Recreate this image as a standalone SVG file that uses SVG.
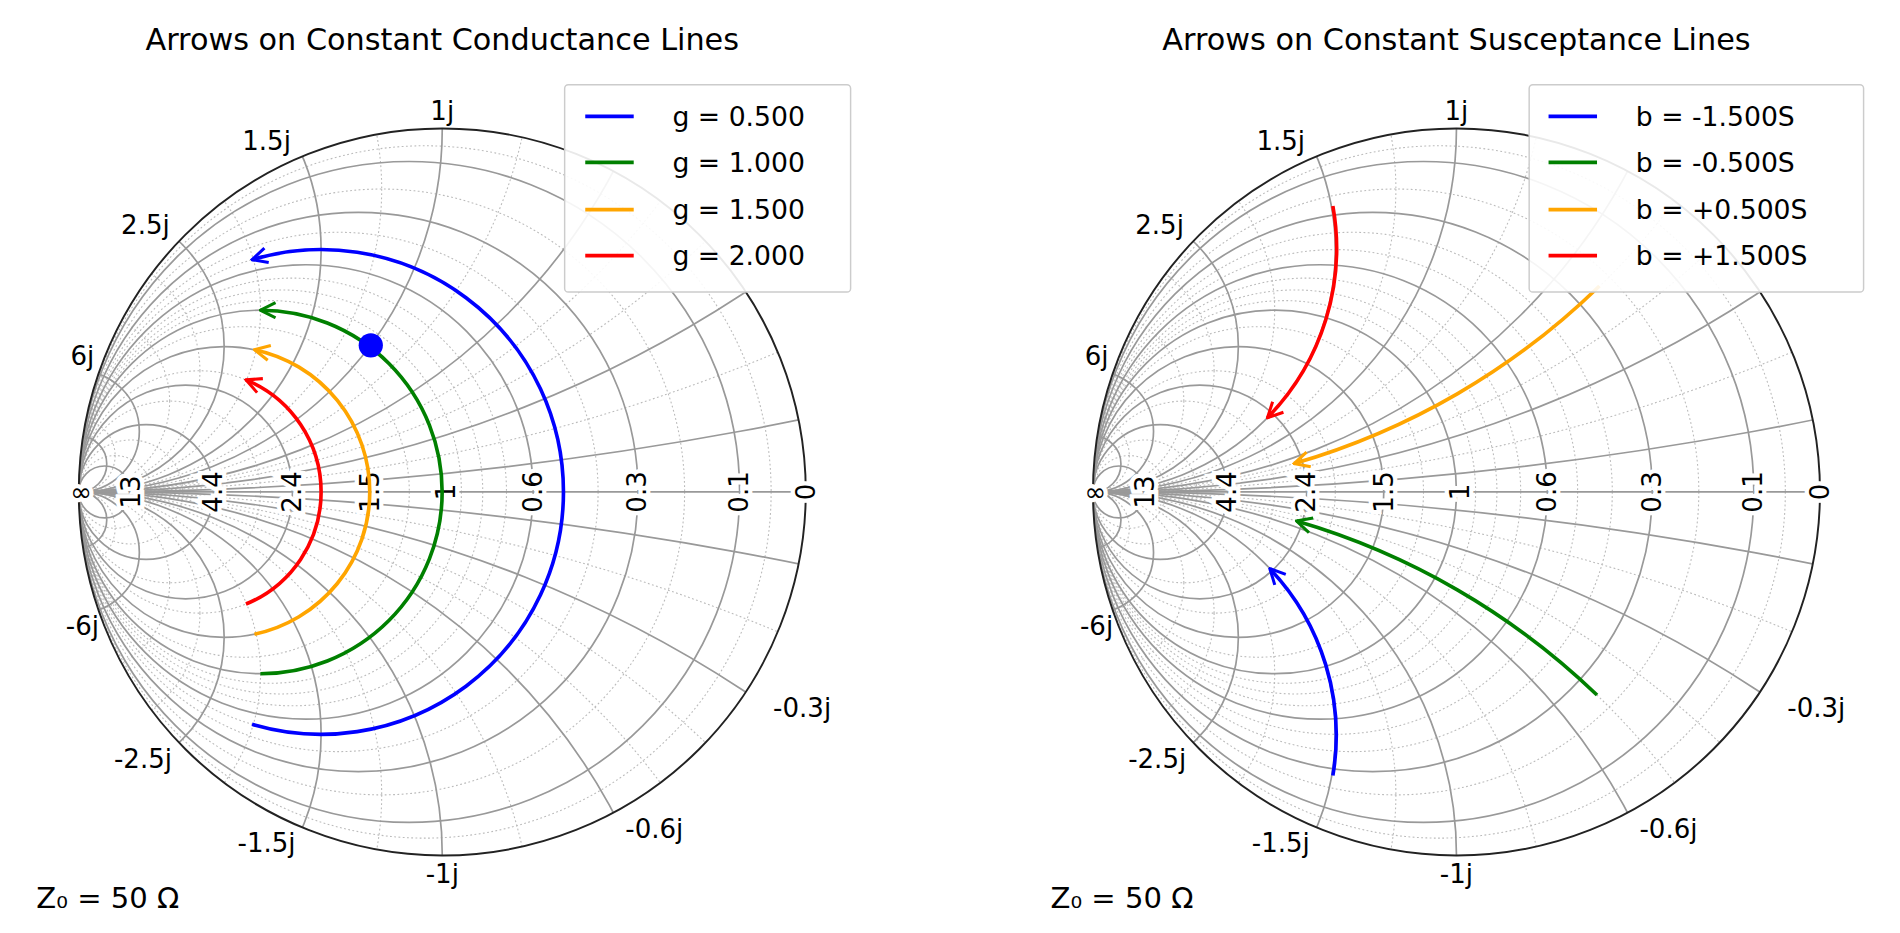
<svg xmlns="http://www.w3.org/2000/svg" width="1900" height="933" viewBox="0 0 1900 933">
<style>
text{font-family:"DejaVu Sans","Liberation Sans",sans-serif;fill:#000}
.t{font-size:25px}
.l{font-size:21.5px}
.g{font-size:22px}
.ax{font-size:21.5px;stroke:#fff;stroke-width:7;paint-order:stroke;text-anchor:middle;dominant-baseline:central}
.M{fill:none;stroke:#999;stroke-width:1.4}
.m{fill:none;stroke:#bbb;stroke-width:0.9;stroke-dasharray:1.5 2}
.c{fill:none;stroke-width:3}
</style>
<defs>
<clipPath id="cp"><circle cx="0" cy="0" r="300"/></clipPath>
<marker id="ar" viewBox="0 0 12 12" refX="11" refY="6" markerWidth="5" markerHeight="5" orient="auto" markerUnits="strokeWidth"><path d="M1,1 L11,6 L1,11" fill="none" stroke="context-stroke" stroke-width="2"/></marker>
<g id="grid">
<g clip-path="url(#cp)">
<g class="m">
<circle cx="-14.3" cy="0" r="285.7"/><circle cx="-50" cy="0" r="250"/><circle cx="-85.7" cy="0" r="214.3"/><circle cx="-100" cy="0" r="200"/><circle cx="-123.5" cy="0" r="176.5"/><circle cx="-133.3" cy="0" r="166.7"/><circle cx="-142.1" cy="0" r="157.9"/><circle cx="-163.6" cy="0" r="136.4"/><circle cx="-200" cy="0" r="100"/><circle cx="-225" cy="0" r="75"/><circle cx="-257.1" cy="0" r="42.9"/><circle cx="-270" cy="0" r="30"/>
<circle cx="-300" cy="-1500" r="1500"/><circle cx="-300" cy="1500" r="1500"/><circle cx="-300" cy="-750" r="750"/><circle cx="-300" cy="750" r="750"/><circle cx="-300" cy="-600" r="600"/><circle cx="-300" cy="600" r="600"/><circle cx="-300" cy="-375" r="375"/><circle cx="-300" cy="375" r="375"/><circle cx="-300" cy="-250" r="250"/><circle cx="-300" cy="250" r="250"/><circle cx="-300" cy="-150" r="150"/><circle cx="-300" cy="150" r="150"/><circle cx="-300" cy="-100" r="100"/><circle cx="-300" cy="100" r="100"/><circle cx="-300" cy="-75" r="75"/><circle cx="-300" cy="75" r="75"/><circle cx="-300" cy="-30" r="30"/><circle cx="-300" cy="30" r="30"/>
</g>
<g class="M">
<circle cx="-27.3" cy="0" r="272.7"/><circle cx="-69.2" cy="0" r="230.8"/><circle cx="-112.5" cy="0" r="187.5"/><circle cx="-150" cy="0" r="150"/><circle cx="-180" cy="0" r="120"/><circle cx="-211.8" cy="0" r="88.2"/><circle cx="-244.4" cy="0" r="55.6"/><circle cx="-278.6" cy="0" r="21.4"/>
<circle cx="-300" cy="-3000" r="3000"/><circle cx="-300" cy="3000" r="3000"/><circle cx="-300" cy="-1000" r="1000"/><circle cx="-300" cy="1000" r="1000"/><circle cx="-300" cy="-500" r="500"/><circle cx="-300" cy="500" r="500"/><circle cx="-300" cy="-300" r="300"/><circle cx="-300" cy="300" r="300"/><circle cx="-300" cy="-200" r="200"/><circle cx="-300" cy="200" r="200"/><circle cx="-300" cy="-120" r="120"/><circle cx="-300" cy="120" r="120"/><circle cx="-300" cy="-50" r="50"/><circle cx="-300" cy="50" r="50"/><circle cx="-300" cy="-23.1" r="23.1"/><circle cx="-300" cy="23.1" r="23.1"/>
<line x1="-300" y1="0" x2="300" y2="0"/>
</g>
</g>
<circle cx="0" cy="0" r="300" fill="none" stroke="#222" stroke-width="1.6"/>
</g>
</defs>
<rect width="1900" height="933" fill="#fff"/>
<g transform="scale(1.2117)">
<g id="chart-left">
<text class="t" x="365" y="41" text-anchor="middle">Arrows on Constant Conductance Lines</text>
<use href="#grid" x="365" y="406"/>
<g class="ax">
<text x="67" y="406">∞</text><text transform="translate(108,406) rotate(-90)">13</text><text transform="translate(176,406) rotate(-90)">4.4</text><text transform="translate(241,406) rotate(-90)">2.4</text><text transform="translate(305,406) rotate(-90)">1.5</text><text transform="translate(368,406) rotate(-90)">1</text><text transform="translate(440,406) rotate(-90)">0.6</text><text transform="translate(526,406) rotate(-90)">0.3</text><text transform="translate(610,406) rotate(-90)">0.1</text><text transform="translate(665,406) rotate(-90)">0</text>
</g>
<g class="l" text-anchor="middle">
<text x="365" y="99">1j</text><text x="220" y="124">1.5j</text><text x="120" y="193">2.5j</text><text x="68" y="301">6j</text><text x="68" y="524">-6j</text><text x="118" y="634">-2.5j</text><text x="220" y="703">-1.5j</text><text x="365" y="729">-1j</text><text x="540" y="692">-0.6j</text><text x="662" y="592">-0.3j</text>
</g>
<text x="30" y="749" style="font-size:24px">Z₀ = 50 Ω</text>
</g>

<g id="chart-right">
<text class="t" x="1202" y="41" text-anchor="middle">Arrows on Constant Susceptance Lines</text>
<use href="#grid" x="1202" y="406"/>
<g class="ax">
<text x="904" y="406">∞</text><text transform="translate(945,406) rotate(-90)">13</text><text transform="translate(1013,406) rotate(-90)">4.4</text><text transform="translate(1078,406) rotate(-90)">2.4</text><text transform="translate(1142,406) rotate(-90)">1.5</text><text transform="translate(1205,406) rotate(-90)">1</text><text transform="translate(1277,406) rotate(-90)">0.6</text><text transform="translate(1363,406) rotate(-90)">0.3</text><text transform="translate(1447,406) rotate(-90)">0.1</text><text transform="translate(1502,406) rotate(-90)">0</text>
</g>
<g class="l" text-anchor="middle">
<text x="1202" y="99">1j</text><text x="1057" y="124">1.5j</text><text x="957" y="193">2.5j</text><text x="905" y="301">6j</text><text x="905" y="524">-6j</text><text x="955" y="634">-2.5j</text><text x="1057" y="703">-1.5j</text><text x="1202" y="729">-1j</text><text x="1377" y="692">-0.6j</text><text x="1499" y="592">-0.3j</text>
</g>
<text x="867" y="749" style="font-size:24px">Z₀ = 50 Ω</text>
</g>

<g id="connectors">
<path class="c" stroke="#0000ff" marker-end="url(#ar)" d="M208,597.7 A200,200 0 1 0 208,214.3"/>
<path class="c" stroke="#008000" marker-end="url(#ar)" d="M214.9,556 A150,150 0 1 0 214.9,256"/>
<path class="c" stroke="#ffa500" marker-end="url(#ar)" d="M210,523.4 A120,120 0 0 0 210,288.6"/>
<path class="c" stroke="#ff0000" marker-end="url(#ar)" d="M203,498.5 A100,100 0 0 0 203,313.5"/>
<path class="c" stroke="#0000ff" marker-end="url(#ar)" d="M1100,640 A200,200 0 0 0 1048,469.3"/>
<path class="c" stroke="#008000" marker-end="url(#ar)" d="M1318,573.6 A600,600 0 0 0 1070,430"/>
<path class="c" stroke="#ffa500" marker-end="url(#ar)" d="M1320,236 A600,600 0 0 1 1068,382.6"/>
<path class="c" stroke="#ff0000" marker-end="url(#ar)" d="M1100,170 A200,200 0 0 1 1046,344.8"/>
</g>
<circle id="point" cx="306" cy="285" r="10" fill="#0000ff"/>

<g id="legend-left">
<rect x="466" y="70" width="236" height="171" fill="#fff" fill-opacity="0.9" stroke="#ccc" stroke-width="1.2" rx="3"/>
<line x1="483" y1="96" x2="523" y2="96" stroke="#0000ff" stroke-width="3"/><text class="g" x="555" y="104">g = 0.500</text>
<line x1="483" y1="134" x2="523" y2="134" stroke="#008000" stroke-width="3"/><text class="g" x="555" y="142">g = 1.000</text>
<line x1="483" y1="173" x2="523" y2="173" stroke="#ffa500" stroke-width="3"/><text class="g" x="555" y="181">g = 1.500</text>
<line x1="483" y1="211" x2="523" y2="211" stroke="#ff0000" stroke-width="3"/><text class="g" x="555" y="219">g = 2.000</text>
</g>
<g id="legend-right">
<rect x="1262" y="70" width="276" height="171" fill="#fff" fill-opacity="0.9" stroke="#ccc" stroke-width="1.2" rx="3"/>
<line x1="1278" y1="96" x2="1318" y2="96" stroke="#0000ff" stroke-width="3"/><text class="g" x="1350" y="104">b = -1.500S</text>
<line x1="1278" y1="134" x2="1318" y2="134" stroke="#008000" stroke-width="3"/><text class="g" x="1350" y="142">b = -0.500S</text>
<line x1="1278" y1="173" x2="1318" y2="173" stroke="#ffa500" stroke-width="3"/><text class="g" x="1350" y="181">b = +0.500S</text>
<line x1="1278" y1="211" x2="1318" y2="211" stroke="#ff0000" stroke-width="3"/><text class="g" x="1350" y="219">b = +1.500S</text>
</g>
</g>
</svg>
